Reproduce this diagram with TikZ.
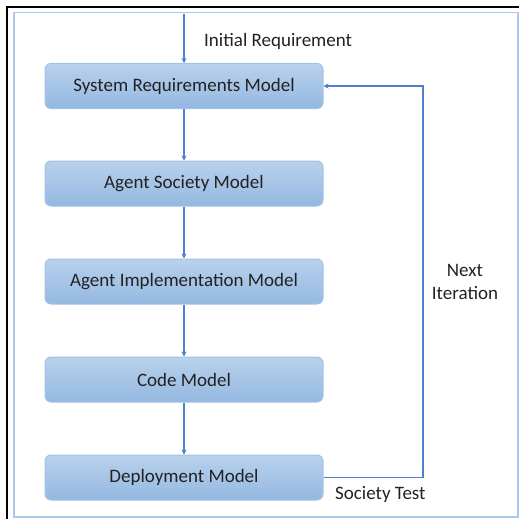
\documentclass[tikz,border=0pt]{standalone}
\usepackage{fontspec}
\setmainfont{Carlito}
\usetikzlibrary{arrows.meta}
\definecolor{boxtop}{HTML}{B9D1EC}
\definecolor{boxbot}{HTML}{94B8E1}
\definecolor{boxedge}{HTML}{A4C2E6}
\definecolor{flow}{HTML}{4D7FCF}
\definecolor{frameblue}{HTML}{AFC7EA}
\definecolor{ink}{HTML}{222222}
\tikzset{
  model/.style={draw=boxedge, line width=1pt, rounded corners=6pt,
    top color=boxtop, bottom color=boxbot,
    minimum width=278pt, minimum height=45pt, inner sep=0pt,
    font=\fontsize{19}{21}\selectfont, text=ink},
  flowline/.style={draw=flow, line width=1.6pt, -{Stealth[length=5pt,width=5pt]}},
  lbl/.style={font=\fontsize{19}{21}\selectfont, text=ink, inner sep=0pt}
}
\begin{document}
\begin{tikzpicture}[x=1pt,y=-1pt]
\useasboundingbox (0,0) rectangle (519,519);
\begin{scope}
\clip (0,0) rectangle (519,519);
\draw[black, line width=2pt] (6.5,7) rectangle (540,540);
\end{scope}
\draw[frameblue, line width=1.5pt] (14,12.5) rectangle (518,517);

\node[model] (srm) at (184,86) {System Requirements Model};
\node[model] (asm) at (184,183.5) {Agent Society Model};
\node[model] (aim) at (184,281.5) {Agent Implementation Model};
\node[model] (cm)  at (184,379.5) {Code Model};
\node[model] (dm)  at (184,477.5) {Deployment Model};

\coordinate (start) at (184,14);
\coordinate (turnlow) at (423,477.5);
\coordinate (turnhigh) at (423,86);

\draw[flowline] (start) -- (srm.north);
\draw[flowline] (srm) -- (asm);
\draw[flowline] (asm) -- (aim);
\draw[flowline] (aim) -- (cm);
\draw[flowline] (cm) -- (dm);
\draw[flowline] (dm.east) -- (turnlow) -- (turnhigh) -- (srm.east);

\node[lbl, anchor=west] (initreq) at (204,41) {Initial Requirement};
\node[lbl, align=center] (nextit) at (465,282) {Next\\[2pt]Iteration};
\node[lbl, anchor=west] (soctest) at (335,494) {Society Test};
\end{tikzpicture}
\end{document}
